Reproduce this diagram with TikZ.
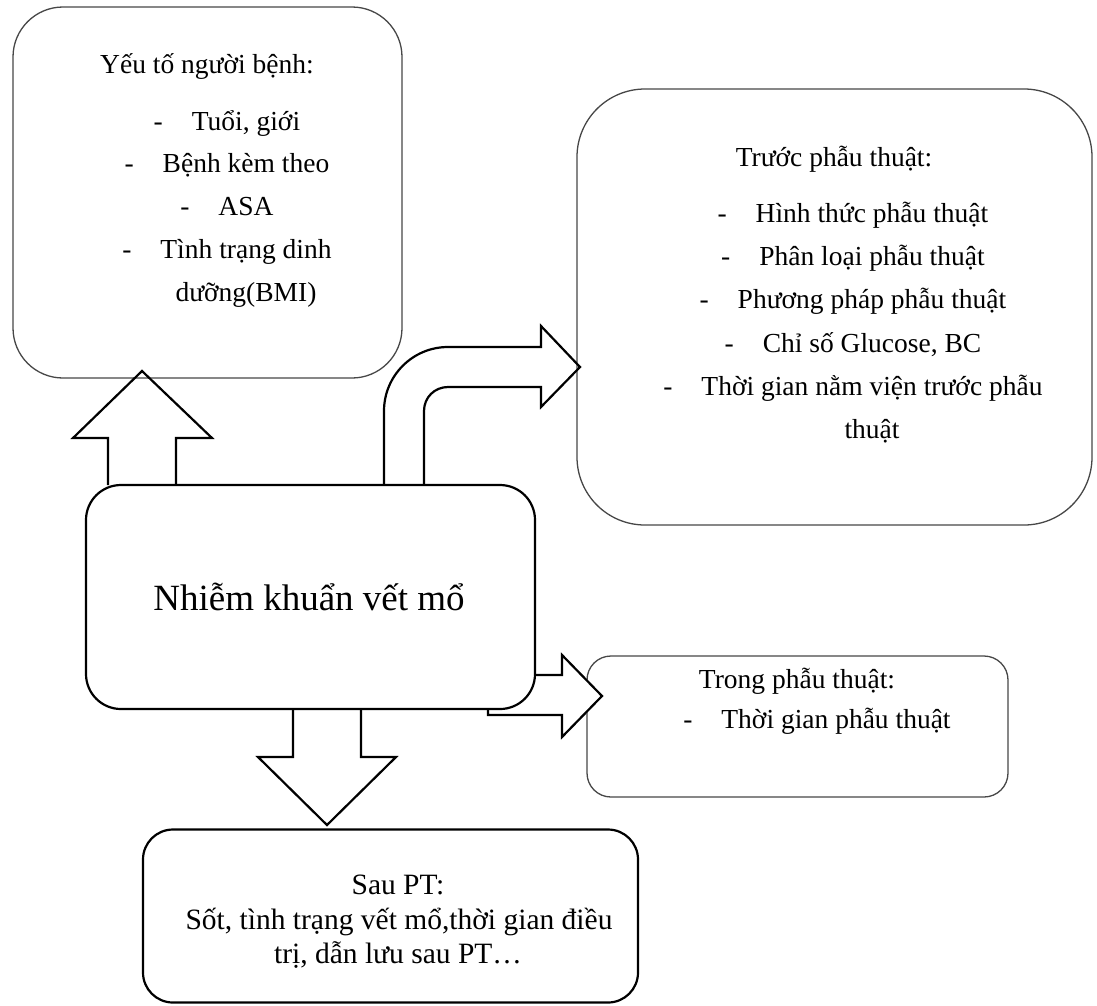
\documentclass[tikz,border=0pt]{standalone}
\usepackage{fontspec}
\setmainfont{Liberation Serif}
\tikzset{
  gbox/.style={draw=black!72, line width=1.3pt, fill=white, rounded corners=#1, inner sep=0pt},
  gbox/.default=30pt,
  bbox/.style={draw=black, line width=2.2pt, fill=white, rounded corners=#1, inner sep=0pt},
  bbox/.default=35pt,
  txt/.style={font=\fontsize{27.5}{33}\selectfont, anchor=base, inner sep=0pt},
  dtxt/.style={font=\fontsize{29.5}{36}\selectfont, anchor=base, inner sep=0pt},
  ctxt/.style={font=\fontsize{37}{44}\selectfont, anchor=base, inner sep=0pt},
  blockarrow/.style={draw=black, line width=2.2pt, line join=miter}
}
\newcommand{\itemdash}{\llap{-\hspace{29pt}}}
\begin{document}
\begin{tikzpicture}[x=1pt,y=-1pt]
\useasboundingbox (0,0) rectangle (1097,1005);

% ---- boxes ----
\node[gbox=50pt, minimum width=389pt, minimum height=371pt] (A) at (207.5,192.5) {};
\node[gbox=68pt, minimum width=515pt, minimum height=436pt] (B) at (834.5,307) {};
\node[gbox=24pt, minimum width=421pt, minimum height=141pt] (C) at (797.5,726.5) {};
\node[bbox=30pt, minimum width=495pt, minimum height=173pt] (D) at (390.5,916) {};

% ---- arrow to C (behind centre box) ----
\draw[blockarrow, fill=white] (488,675) -- (562,675) -- (562,655) -- (602,696)
  -- (562,737) -- (562,715) -- (488,715) -- cycle;

% ---- centre box ----
\node[bbox=35pt, minimum width=449pt, minimum height=224pt] (M) at (310.5,597) {};
\node[ctxt] (mt) at (309,610) {Nhiễm khuẩn vết mổ};

% ---- up arrow to A ----
\draw[blockarrow] (108,485) -- (108,438) -- (73,438) -- (142,371) -- (212,438)
  -- (176,438) -- (176,485);

% ---- bent arrow to B ----
\draw[blockarrow] (384,485) -- (384,411) .. controls (384,375.7) and (412.7,347) .. (448,347)
  -- (541,347) -- (541,326) -- (580,367) -- (541,407) -- (541,387) -- (448,387)
  .. controls (434.8,387) and (424,397.2) .. (424,411) -- (424,485);

% ---- down arrow to D ----
\draw[blockarrow] (293,709) -- (293,757) -- (258,757) -- (327,825) -- (396,757)
  -- (361,757) -- (361,709);

% ---- texts A ----
\node[txt] (a0) at (207,73) {Yếu tố người bệnh:};
\node[txt] (a1) at (246,130) {\itemdash Tuổi, giới};
\node[txt] (a2) at (246,172) {\itemdash Bệnh kèm theo};
\node[txt] (a3) at (246,215) {\itemdash ASA};
\node[txt] (a4) at (246,258) {\itemdash Tình trạng dinh};
\node[txt] (a5) at (246,301) {dưỡng(BMI)};

% ---- texts B ----
\node[txt] (b0) at (834,166) {Trước phẫu thuật:};
\node[txt] (b1) at (872,222) {\itemdash Hình thức phẫu thuật};
\node[txt] (b2) at (872,265) {\itemdash Phân loại phẫu thuật};
\node[txt] (b3) at (872,308) {\itemdash Phương pháp phẫu thuật};
\node[txt] (b4) at (872,352) {\itemdash Chỉ số Glucose, BC};
\node[txt] (b5) at (872,395) {\itemdash Thời gian nằm viện trước phẫu};
\node[txt] (b6) at (872,438) {thuật};

% ---- texts C ----
\node[txt] (c0) at (797,688) {Trong phẫu thuật:};
\node[txt] (c1) at (836,728) {\itemdash Thời gian phẫu thuật};

% ---- texts D ----
\node[dtxt] (d0) at (398,894) {Sau PT:};
\node[dtxt] (d1) at (399,929) {Sốt, tình trạng vết mổ,thời gian điều};
\node[dtxt] (d2) at (398,963) {trị, dẫn lưu sau PT…};
\end{tikzpicture}
\end{document}
